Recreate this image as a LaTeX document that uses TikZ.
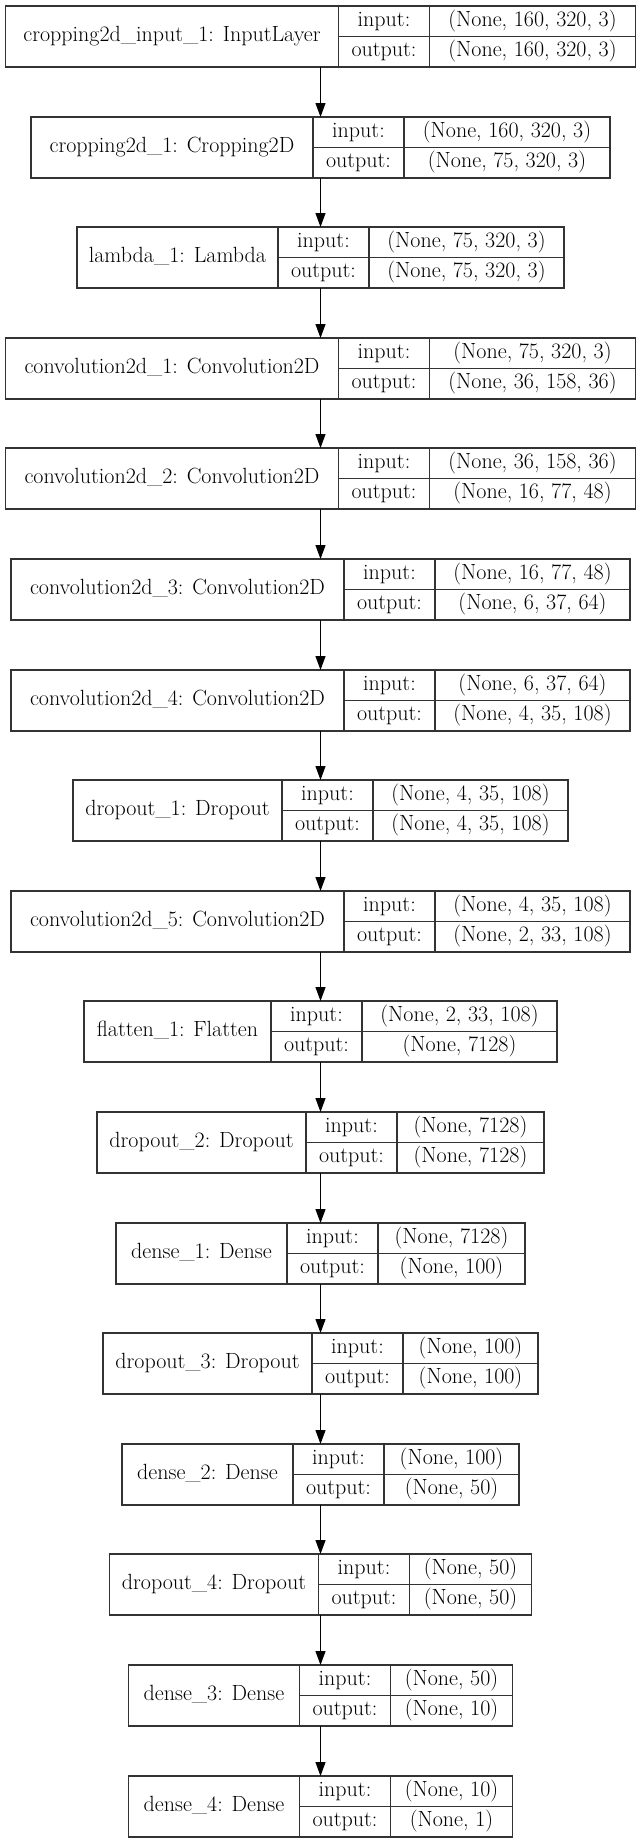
\documentclass[tikz,border=0pt]{standalone}
\usepackage{xcolor}
\usepackage{tikz}
\usetikzlibrary{arrows.meta}

\tikzset{
  cell/.style={draw=black!80, line width=1.2pt, inner sep=0pt, outer sep=0pt,
    minimum height=30.5pt, text height=15pt, text depth=5pt,
    font=\fontsize{22}{26}\selectfont},
  layer/.style={inner sep=0pt, outer sep=0pt, minimum height=61pt},
  flow/.style={-{Triangle[length=14pt,width=10pt]}, line width=1.2pt, black}
}

% one keras layer: id, top, name width, value width, name, input, output
\newcommand{\kerasrow}[7]{%
  \pgfmathsetmacro{\boxw}{#3+91+#4}
  \node[layer, minimum width=\boxw pt, anchor=north] (#1) at (320.5,-#2) {};
  \node[cell, minimum width=#3pt, minimum height=61pt, anchor=north west] (#1-name) at (#1.north west) {#5};
  \node[cell, minimum width=91pt, anchor=north west] (#1-inlbl) at (#1-name.north east) {input:};
  \node[cell, minimum width=91pt, anchor=north west] (#1-outlbl) at (#1-inlbl.south west) {output:};
  \node[cell, minimum width=#4pt, anchor=north west] (#1-in) at (#1-inlbl.north east) {#6};
  \node[cell, minimum width=#4pt, anchor=north west] (#1-out) at (#1-in.south west) {#7};
}

\begin{document}
\begin{tikzpicture}[x=1pt,y=1pt]
\useasboundingbox (0,0) rectangle (641,-1844);

\kerasrow{input}{6}{333}{206}{cropping2d\_input\_1: InputLayer}{(None, 160, 320, 3)}{(None, 160, 320, 3)}
\kerasrow{crop}{117}{282}{206}{cropping2d\_1: Cropping2D}{(None, 160, 320, 3)}{(None, 75, 320, 3)}
\kerasrow{lambda}{227}{201}{195}{lambda\_1: Lambda}{(None, 75, 320, 3)}{(None, 75, 320, 3)}
\kerasrow{conv1}{338}{333}{206}{convolution2d\_1: Convolution2D}{(None, 75, 320, 3)}{(None, 36, 158, 36)}
\kerasrow{conv2}{448}{333}{206}{convolution2d\_2: Convolution2D}{(None, 36, 158, 36)}{(None, 16, 77, 48)}
\kerasrow{conv3}{559}{333}{195}{convolution2d\_3: Convolution2D}{(None, 16, 77, 48)}{(None, 6, 37, 64)}
\kerasrow{conv4}{670}{333}{195}{convolution2d\_4: Convolution2D}{(None, 6, 37, 64)}{(None, 4, 35, 108)}
\kerasrow{drop1}{780}{209}{195}{dropout\_1: Dropout}{(None, 4, 35, 108)}{(None, 4, 35, 108)}
\kerasrow{conv5}{891}{333}{195}{convolution2d\_5: Convolution2D}{(None, 4, 35, 108)}{(None, 2, 33, 108)}
\kerasrow{flat}{1001}{187}{195}{flatten\_1: Flatten}{(None, 2, 33, 108)}{(None, 7128)}
\kerasrow{drop2}{1112}{209}{147}{dropout\_2: Dropout}{(None, 7128)}{(None, 7128)}
\kerasrow{dense1}{1223}{171}{147}{dense\_1: Dense}{(None, 7128)}{(None, 100)}
\kerasrow{drop3}{1333}{209}{135}{dropout\_3: Dropout}{(None, 100)}{(None, 100)}
\kerasrow{dense2}{1444}{171}{135}{dense\_2: Dense}{(None, 100)}{(None, 50)}
\kerasrow{drop4}{1554}{209}{122}{dropout\_4: Dropout}{(None, 50)}{(None, 50)}
\kerasrow{dense3}{1665}{171}{122}{dense\_3: Dense}{(None, 50)}{(None, 10)}
\kerasrow{dense4}{1776}{171}{122}{dense\_4: Dense}{(None, 10)}{(None, 1)}

% arrows
\draw[flow] (input) -- (crop);
\draw[flow] (crop) -- (lambda);
\draw[flow] (lambda) -- (conv1);
\draw[flow] (conv1) -- (conv2);
\draw[flow] (conv2) -- (conv3);
\draw[flow] (conv3) -- (conv4);
\draw[flow] (conv4) -- (drop1);
\draw[flow] (drop1) -- (conv5);
\draw[flow] (conv5) -- (flat);
\draw[flow] (flat) -- (drop2);
\draw[flow] (drop2) -- (dense1);
\draw[flow] (dense1) -- (drop3);
\draw[flow] (drop3) -- (dense2);
\draw[flow] (dense2) -- (drop4);
\draw[flow] (drop4) -- (dense3);
\draw[flow] (dense3) -- (dense4);
\end{tikzpicture}
\end{document}
